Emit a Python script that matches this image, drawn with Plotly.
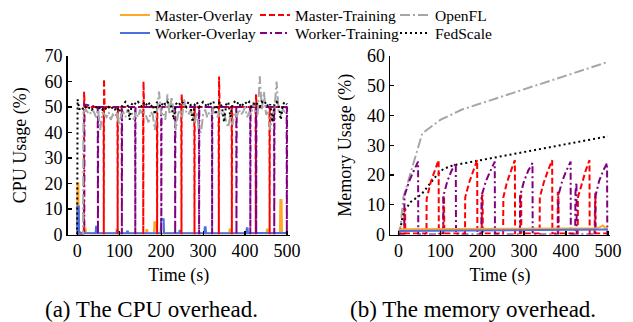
import plotly.graph_objects as go

# ---------------- CPU data (Time s, CPU %) ----------------
mo_cpu_t = [0, 0.5, 3, 3.5, 8, 17, 18, 20, 21, 40, 60, 80, 93, 94, 96, 97, 120, 150, 164, 165, 167, 168,
            183, 184, 188, 189, 220, 250, 280, 310, 340, 362, 363, 365, 366, 400, 430, 451, 452, 454, 455,
            470, 483, 484, 487, 488, 500]
mo_cpu = [0, 20, 20, 1.5, 0.5, 0.5, 2.5, 2.5, 0.4, 0.4, 0.5, 0.4, 0.4, 2, 2, 0.4, 0.5, 0.4, 0.4, 1.8, 1.8, 0.4,
          0.4, 4.8, 4.8, 0.4, 0.5, 0.4, 0.5, 0.4, 0.5, 0.4, 2, 2, 0.4, 0.5, 0.4, 0.4, 2, 2, 0.4,
          0.5, 0.4, 13.5, 13.5, 0.4, 0.4]

wo_cpu_t = [0, 0.5, 4, 4.5, 10, 30, 44, 45, 47, 48, 70, 94, 95, 97, 98, 118, 119, 121, 122, 150, 199, 200, 206,
            207, 230, 243, 244, 246, 247, 280, 303, 304, 306, 307, 340, 370, 403, 404, 406, 407, 440, 470, 500]
wo_cpu = [0, 11, 11, 1, 0.6, 0.5, 0.5, 3, 3, 0.5, 0.6, 0.5, 1.5, 1.5, 0.5, 0.5, 1.2, 1.2, 0.5, 0.6, 0.5, 6, 6,
          0.5, 0.6, 0.5, 1.5, 1.5, 0.5, 0.6, 0.5, 2.8, 2.8, 0.5, 0.6, 0.5, 0.5, 2.5, 2.5, 0.5, 0.6, 0.5, 0.6]

mt_cpu_t = [0, 16, 16.5, 18, 63, 63.5, 64, 65.5, 96, 96.5, 97, 157, 157.5, 158, 159.5, 190, 190.5, 191,
            248, 248.5, 249, 250.5, 279, 279.5, 280, 337, 337.5, 338, 339.5, 368, 368.5, 369,
            425, 425.5, 426, 427.5, 458, 458.5, 459, 500]
mt_cpu = [0, 0, 56, 50, 50, 0, 61, 50, 50, 0, 50, 50, 0, 60, 50, 50, 0, 50,
          50, 0, 55, 50, 50, 0, 50, 50, 0, 62, 50, 50, 0, 50,
          50, 0, 55, 50, 50, 0, 50, 50]

wt_cpu_t = [0, 17, 17.5, 49, 49.5, 50, 106, 106.5, 107, 138, 138.5, 139, 200, 200.5, 201, 233, 233.5, 234,
            290, 290.5, 291, 321, 321.5, 322, 379, 379.5, 380, 412, 412.5, 413, 426, 426.5, 427,
            469, 469.5, 470, 499, 499.5, 500]
wt_cpu = [0, 0, 51, 50, 0, 50, 50, 0, 50, 50, 0, 50, 50, 0, 50, 50, 0, 50,
          50, 0, 50, 50, 0, 50, 50, 0, 50, 50, 0, 50, 50, 0, 50,
          50, 0, 50, 50, 0, 50]

ofl_cpu_t = [0, 14, 15, 20, 25, 30, 35, 40, 45, 50, 55, 60, 65, 70, 75, 80, 85, 90, 95, 100,
             105, 110, 115, 120, 125, 130, 135, 140, 145, 150, 155, 160, 165, 170, 175, 180, 185, 190, 195, 200,
             205, 210, 215, 220, 225, 230, 235, 240, 245, 250, 255, 260, 265, 270, 275, 280, 285, 290, 295, 300,
             305, 310, 315, 320, 325, 330, 335, 340, 345, 350, 355, 360, 365, 370, 375, 380, 385, 390, 395, 400,
             405, 410, 415, 420, 425, 430, 435, 440, 445, 450, 455, 460, 465, 470, 475, 480, 485, 490, 495, 500]
ofl_cpu = [0, 0, 48, 49, 48, 47, 49, 48, 46, 49, 41, 48, 47, 46, 48, 45, 47, 46, 48, 43,
           47, 48, 46, 49, 47, 48, 45, 48, 46, 49, 47, 48, 46, 44, 48, 47, 41, 49, 56, 47,
           48, 45, 55, 47, 54, 48, 41, 47, 49, 46, 53, 48, 47, 49, 46, 44, 48, 41, 40, 47,
           49, 46, 48, 47, 50, 48, 46, 49, 47, 48, 44, 42, 47, 43, 48, 46, 49, 47, 48, 50,
           46, 48, 47, 52, 48, 47, 62, 49, 56, 47, 48, 41, 47, 49, 60, 48, 47, 49, 48, 48]

fs_cpu_t = [0, 1, 3, 5, 10, 15, 20, 25, 30, 35, 40, 45, 50, 55, 60, 65, 70, 75, 80, 85, 90, 95, 100,
            105, 110, 115, 120, 125, 130, 135, 140, 145, 150, 155, 160, 165, 170, 175, 180, 185, 190, 195, 200,
            205, 210, 215, 220, 225, 230, 235, 240, 245, 250, 255, 260, 265, 270, 275, 280, 285, 290, 295, 300,
            305, 310, 315, 320, 325, 330, 335, 340, 345, 350, 355, 360, 365, 370, 375, 380, 385, 390, 395, 400,
            405, 410, 415, 420, 425, 430, 435, 440, 445, 450, 455, 460, 465, 470, 475, 480, 485, 490, 495, 500]
fs_cpu = [0, 53, 51, 49, 50, 49, 50, 49, 50, 49, 50, 50, 49, 50, 49, 50, 49, 50, 49, 50, 49, 50, 48,
          50, 51, 52, 51, 45, 51, 52, 51, 52, 51, 50, 52, 51, 52, 50, 51, 47, 52, 51, 50,
          52, 51, 52, 51, 50, 45, 51, 52, 51, 52, 51, 50, 52, 51, 44, 51, 52, 50, 51, 52,
          51, 50, 52, 51, 52, 47, 51, 52, 50, 44, 51, 52, 46, 51, 52, 51, 52, 50, 51, 52,
          51, 52, 50, 51, 52, 51, 50, 52, 51, 52, 50, 51, 44, 51, 52, 51, 45, 51, 52, 51]

# ---------------- Memory data (Time s, Memory %) ----------------
mo_mem_t = [0, 100, 200, 300, 400, 470, 480, 488, 493, 500]
mo_mem = [1.8, 1.8, 1.9, 1.9, 2.0, 2.1, 2.4, 3.0, 2.3, 2.3]

wo_mem_t = [0, 100, 200, 300, 400, 500]
wo_mem = [1.2, 1.3, 1.4, 1.5, 1.6, 1.7]

mt_mem_t = [0, 14, 14.5, 16, 16.5, 67, 67.5, 77, 87, 96, 96.5, 107, 107.5, 109, 109.5,
            159, 159.5, 169, 179, 188, 188.5, 199, 199.5, 201, 201.5,
            250, 250.5, 259, 269, 278, 278.5, 291, 291.5, 293, 293.5,
            337, 337.5, 347, 357, 367, 367.5, 380, 380.5, 382, 382.5,
            428, 428.5, 438, 447, 456, 456.5, 468, 468.5, 470, 470.5, 500]
mt_mem = [0.3, 0.3, 8.5, 8.5, 0.3, 0.3, 12, 17.5, 21.5, 25, 0.3, 0.3, 13, 13, 0.3,
          0.3, 12.5, 17.5, 21.5, 25, 0.3, 0.3, 13, 13, 0.3,
          0.3, 12.5, 17.5, 21.5, 25, 0.3, 0.3, 13, 13, 0.3,
          0.3, 12.5, 17.5, 21.5, 25, 0.3, 0.3, 14, 14, 0.3,
          0.3, 12.5, 17.5, 21.5, 25, 0.3, 0.3, 14, 14, 0.3, 0.3]

wt_mem_t = [0, 14, 14.5, 26, 37, 47, 47.5, 107, 107.5, 117, 127, 137, 137.5,
            198, 198.5, 209, 220, 230, 230.5, 290, 290.5, 300, 310, 320, 320.5,
            381, 381.5, 391, 401, 411, 411.5, 422, 422.5, 425, 425.5,
            470, 470.5, 479, 489, 498, 498.5, 500]
wt_mem = [0, 0, 13, 18, 21.5, 24.5, 0, 0, 13, 18, 21.5, 24, 0,
          0, 13, 18, 21.5, 24.5, 0, 0, 13, 18, 21.5, 24, 0,
          0, 13, 18, 21.5, 24.5, 0, 0, 14, 17.5, 0,
          0, 13, 18, 21.5, 24, 0, 0]

ofl_mem_t = [0, 3, 12, 57, 100, 152, 500]
ofl_mem = [0, 0, 12.5, 34, 38.5, 42, 58]

fs_mem_t = [0, 3, 10, 17, 30, 55, 75, 92, 107, 125, 140, 500]
fs_mem = [0, 0.5, 6, 8.5, 11, 13.5, 17, 20, 22, 23, 23.5, 33]

x_ticks = [0, 100, 200, 300, 400, 500]

# ---------------- styles ----------------
FONT = "Liberation Serif, Times New Roman, serif"
C_MO, C_WO, C_MT, C_WT, C_OFL, C_FS = "#FFA726", "#4A6FE3", "#FF0000", "#800080", "#A6A6A6", "#000000"
D_MT, D_WT, D_OFL, D_FS = "6px,3px", "7px,3px,2px,3px", "10px,3px,2px,3px", "2px,3px"

fig = go.Figure()

def add(x, y, name, color, dash, width, xa, ya, legend, show):
    fig.add_trace(go.Scatter(
        x=x, y=y, name=name, mode="lines",
        line=dict(color=color, dash=dash, width=width),
        xaxis=xa, yaxis=ya, legend=legend, showlegend=show, hoverinfo="skip"))

# CPU subplot
add(mo_cpu_t, mo_cpu, "Master-Overlay", C_MO, "solid", 2, "x", "y", "legend", True)
add(wo_cpu_t, wo_cpu, "Worker-Overlay", C_WO, "solid", 2, "x", "y", "legend2", True)
add(mt_cpu_t, mt_cpu, "Master-Training", C_MT, D_MT, 2, "x", "y", "legend", True)
add(wt_cpu_t, wt_cpu, "Worker-Training", C_WT, D_WT, 2, "x", "y", "legend2", True)
add(ofl_cpu_t, ofl_cpu, "OpenFL", C_OFL, D_OFL, 2, "x", "y", "legend", True)
add(fs_cpu_t, fs_cpu, "FedScale", C_FS, D_FS, 2, "x", "y", "legend2", True)

# Memory subplot
add(ofl_mem_t, ofl_mem, "OpenFL", C_OFL, D_OFL, 2, "x2", "y2", "legend", False)
add(fs_mem_t, fs_mem, "FedScale", C_FS, D_FS, 2, "x2", "y2", "legend2", False)
add(mt_mem_t, mt_mem, "Master-Training", C_MT, D_MT, 2, "x2", "y2", "legend", False)
add(wt_mem_t, wt_mem, "Worker-Training", C_WT, D_WT, 2, "x2", "y2", "legend2", False)
add(mo_mem_t, mo_mem, "Master-Overlay", C_MO, "solid", 2, "x2", "y2", "legend", False)
add(wo_mem_t, wo_mem, "Worker-Overlay", C_WO, "solid", 2, "x2", "y2", "legend2", False)

W, H = 633, 322
ML, MR = 60, 20
PW = W - ML - MR

def xd(a, b):
    return [(a - ML) / PW, (b - ML) / PW]

ydom = [(H - 234.5) / H, (H - 56) / H]

axis_common = dict(
    showline=True, linecolor="black", linewidth=1.3, mirror=False,
    ticks="inside", ticklen=4, tickwidth=1.2, tickcolor="black",
    showgrid=False, zeroline=False, automargin=False,
    tickfont=dict(family=FONT, size=18, color="black"),
)
title_font = dict(family=FONT, size=18, color="black")
legend_common = dict(orientation="h", xanchor="left", yanchor="middle",
                     entrywidth=95, entrywidthmode="pixels", bgcolor="rgba(0,0,0,0)",
                     font=dict(family=FONT, size=15.5, color="black"))

fig.update_layout(
    template="none",
    width=W, height=H,
    margin=dict(l=ML, r=MR, t=0, b=0, autoexpand=False),
    paper_bgcolor="white", plot_bgcolor="white",
    font=dict(family=FONT, color="black"),
    xaxis=dict(domain=xd(67.5, 290), range=[-23, 507], tickvals=x_ticks, anchor="y",
               title=dict(text="Time (s)", font=title_font, standoff=8), **axis_common),
    yaxis=dict(domain=ydom, range=[0, 70], dtick=10, anchor="x",
               title=dict(text="CPU Usage (%)", font=title_font, standoff=13), **axis_common),
    xaxis2=dict(domain=xd(390, 610), range=[-20, 505], tickvals=x_ticks, anchor="y2",
                title=dict(text="Time (s)", font=title_font, standoff=8), **axis_common),
    yaxis2=dict(domain=ydom, range=[0, 60], dtick=10, anchor="x2",
                title=dict(text="Memory Usage (%)", font=title_font, standoff=10), **axis_common),
    legend=dict(x=(115 - ML) / PW, y=1 - 15.5 / H, **legend_common),
    legend2=dict(x=(115 - ML) / PW, y=1 - 33.5 / H, **legend_common),
    annotations=[
        dict(text="(a) The CPU overhead.", xref="paper", yref="paper",
             x=(151 - ML) / PW, y=1 - 309 / H, xanchor="center", yanchor="middle", showarrow=False,
             font=dict(family=FONT, size=23, color="black")),
        dict(text="(b) The memory overhead.", xref="paper", yref="paper",
             x=(473 - ML) / PW, y=1 - 309 / H, xanchor="center", yanchor="middle", showarrow=False,
             font=dict(family=FONT, size=23, color="black")),
    ],
)

fig.write_html("out.html", config={"displayModeBar": False, "staticPlot": True},
               post_script="document.body.style.margin='0px';")
